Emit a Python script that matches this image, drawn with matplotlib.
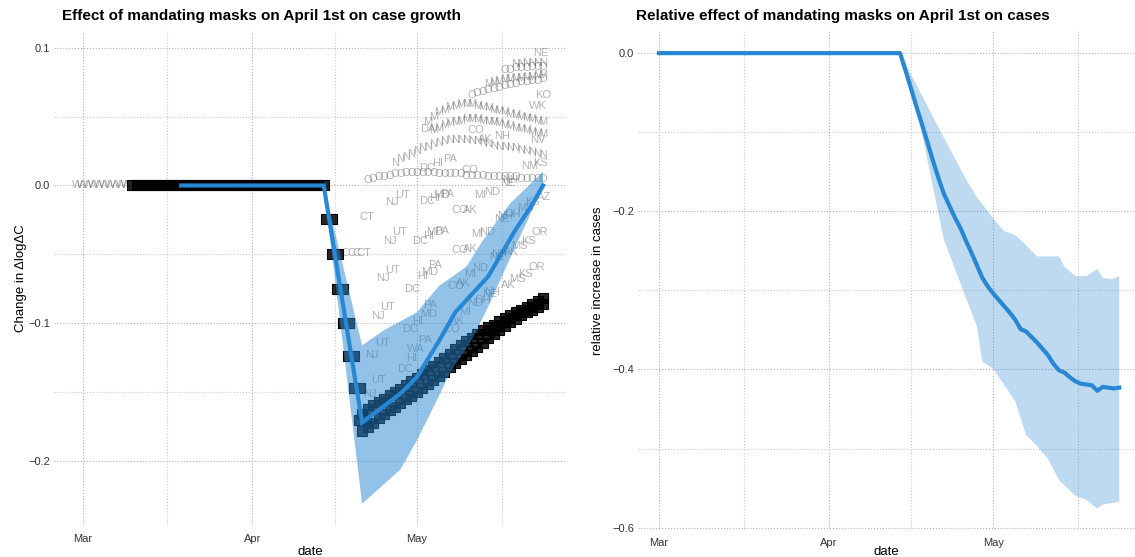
import numpy as np
import matplotlib.pyplot as plt
from matplotlib.path import Path

plt.rcParams['font.family'] = ['Liberation Sans', 'DejaVu Sans']

# x values are days counted from March 1st
month_ticks = [0, 31, 61]
month_labels = ['Mar', 'Apr', 'May']
mid_month = [15.5, 46, 76.5]

# ---------------- left panel data ----------------
# pooled estimate (blue line) and its band
growth_days = [18, 44, 51, 58, 61, 65, 68, 74, 79, 82, 84]
growth_vals = [0.0, 0.0, -0.172, -0.151, -0.139, -0.113, -0.092, -0.066, -0.032, -0.014, 0.0]
band_hi_days = [44, 51, 55, 61, 65, 70, 73, 78, 84]
band_hi_vals = [0.0, -0.116, -0.105, -0.092, -0.073, -0.059, -0.040, -0.013, 0.010]
band_lo_days = [44, 51, 58, 61, 65, 67, 71, 74, 79, 84]
band_lo_vals = [0.0, -0.231, -0.206, -0.185, -0.153, -0.136, -0.112, -0.088, -0.044, -0.001]

# black markers
black_flat_days = list(range(9, 45))
black_flat_vals = [0.0] * 36
black_step_days = [45, 46, 47, 48, 49, 50, 51]
black_step_vals = [-0.024, -0.050, -0.075, -0.100, -0.124, -0.147, -0.170]
black_rise_start = 51
black_rise_up = [-0.166, -0.162, -0.159, -0.157, -0.155, -0.152, -0.150, -0.148, -0.145,
                 -0.142, -0.140, -0.137, -0.134, -0.131, -0.128, -0.125, -0.122, -0.119,
                 -0.116, -0.113, -0.111, -0.108, -0.105, -0.103, -0.101, -0.098, -0.096,
                 -0.094, -0.092, -0.090, -0.088, -0.086, -0.084, -0.082]
black_rise_lo = [-0.178, -0.175, -0.172, -0.169, -0.166, -0.163, -0.161, -0.158, -0.155,
                 -0.153, -0.150, -0.147, -0.144, -0.141, -0.138, -0.135, -0.132, -0.129,
                 -0.126, -0.123, -0.120, -0.117, -0.114, -0.111, -0.108, -0.105, -0.102,
                 -0.099, -0.097, -0.094, -0.092, -0.090, -0.088, -0.086]

# dense rows of grey state labels (one glyph per day)
row_w_start, row_w_char = -1, 'W'
row_w_vals = [0.0] * 10
row_a_start, row_a_char = 52, 'O'
row_a_vals = [0.004, 0.005, 0.006, 0.006, 0.007, 0.008, 0.008, 0.009, 0.009, 0.009, 0.009,
              0.009, 0.009, 0.008, 0.008, 0.008, 0.008, 0.008, 0.007, 0.007, 0.007, 0.007,
              0.006, 0.006, 0.006, 0.006, 0.006, 0.006, 0.005, 0.005, 0.005, 0.005, 0.005]
row_b_start, row_b_char = 57, 'N'
row_b_vals = [0.016, 0.019, 0.021, 0.023, 0.025, 0.027, 0.028, 0.030, 0.031, 0.032, 0.033,
              0.033, 0.033, 0.033, 0.032, 0.032, 0.031, 0.030, 0.029, 0.028, 0.028, 0.027,
              0.027, 0.026, 0.025, 0.024, 0.023, 0.022]
row_c1_start, row_c1_char = 63, 'M'
row_c1_vals = [0.046, 0.050, 0.053, 0.055, 0.057, 0.058, 0.059, 0.059, 0.059, 0.058, 0.057,
               0.056, 0.055, 0.054, 0.053, 0.052, 0.051, 0.050, 0.049, 0.048, 0.047, 0.046]
row_c2_start, row_c2_char = 64, 'M'
row_c2_vals = [0.040, 0.042, 0.044, 0.045, 0.046, 0.047, 0.048, 0.048, 0.048, 0.047, 0.046,
               0.046, 0.045, 0.044, 0.043, 0.042, 0.041, 0.040, 0.039, 0.038, 0.037]
row_d1_start, row_d1_char = 71, 'O'
row_d1_vals = [0.066, 0.067, 0.068, 0.069, 0.070, 0.071, 0.072, 0.073, 0.074, 0.075, 0.075,
               0.076, 0.076, 0.077]
row_d2_start, row_d2_char = 74, 'M'
row_d2_vals = [0.074, 0.075, 0.076, 0.077, 0.077, 0.078, 0.078, 0.079, 0.079, 0.080, 0.080]
row_e1_start, row_e1_char = 77, 'O'
row_e1_vals = [0.084, 0.084, 0.085, 0.085, 0.085, 0.086, 0.086, 0.086]
row_e2_start, row_e2_char = 79, 'N'
row_e2_vals = [0.088, 0.088, 0.089, 0.089, 0.089, 0.089]

# single grey state labels: (text, day, value)
state_labels = [
    ('NE', 83.6, 0.096),
    ('NJ', 56.5, -0.012), ('UT', 58.3, -0.007), ('NJ', 56.0, -0.040), ('UT', 57.8, -0.034),
    ('NJ', 54.8, -0.067), ('UT', 56.6, -0.061), ('NJ', 53.9, -0.095), ('UT', 55.6, -0.088),
    ('NJ', 52.8, -0.123), ('UT', 54.8, -0.114), ('NJ', 52.4, -0.151), ('UT', 53.9, -0.141),
    ('CT', 51.8, -0.023), ('C', 48, -0.049), ('C', 49, -0.049), ('C', 50, -0.049),
    ('CT', 51.3, -0.049),
    ('DC', 62.8, 0.013), ('HI', 64.8, 0.016), ('PA', 67.0, 0.019),
    ('DC', 62.8, -0.011), ('HI', 64.3, -0.009), ('MD', 65.5, -0.007), ('PA', 66.5, -0.006),
    ('DC', 61.6, -0.040), ('HI', 63.1, -0.037), ('MD', 64.3, -0.034), ('PA', 65.5, -0.033),
    ('DC', 60.1, -0.075), ('HI', 62.1, -0.066), ('MD', 63.4, -0.063), ('PA', 64.3, -0.058),
    ('DC', 59.7, -0.104), ('HI', 61.2, -0.098), ('MD', 63.1, -0.093), ('PA', 63.4, -0.087),
    ('DC', 58.9, -0.133), ('HI', 60.1, -0.125), ('WA', 60.7, -0.119), ('PA', 62.5, -0.112),
    ('CO', 71.8, 0.040), ('AK', 73.4, 0.034), ('CO', 70.7, 0.011),
    ('CO', 68.9, -0.018), ('AK', 70.7, -0.018), ('CO', 68.9, -0.047), ('AK', 70.7, -0.046),
    ('CO', 68.0, -0.073), ('AK', 69.4, -0.071), ('CO', 67.4, -0.104), ('AK', 68.3, -0.098),
    ('MI', 72.5, -0.007), ('ND', 74.7, -0.005), ('MI', 72.0, -0.035), ('ND', 73.8, -0.034),
    ('MI', 70.7, -0.064), ('ND', 72.5, -0.060), ('MI', 69.8, -0.092), ('ND', 71.6, -0.085),
    ('OH', 73.1, -0.083),
    ('NE', 76.5, -0.024), ('NH', 77.0, -0.022), ('NE', 75.5, -0.052), ('NH', 76.0, -0.050),
    ('NE', 74.3, -0.079), ('NH', 74.8, -0.077), ('NE', 77.5, 0.002), ('NH', 78.0, 0.004),
    ('OH', 78.5, -0.021),
    ('MS', 80.7, -0.016), ('KS', 82.0, -0.012), ('AZ', 84.2, -0.008),
    ('AK', 78.3, -0.048), ('MS', 79.6, -0.044), ('KS', 81.4, -0.040), ('OR', 83.4, -0.034),
    ('AK', 77.7, -0.072), ('MS', 79.3, -0.068), ('KS', 80.8, -0.064), ('OR', 82.9, -0.059),
    ('KS', 83.5, 0.016), ('NM', 81.5, 0.014), ('NH', 76.5, 0.036), ('NV', 83.0, 0.033),
    ('DA', 63.0, 0.041), ('KO', 84.0, 0.066), ('WK', 83.0, 0.058),
]

# ---------------- right panel data ----------------
rel_days = [0, 44, 45, 46, 47, 48, 49, 50, 51, 52, 53, 54, 55, 56, 57, 58, 59, 60, 61, 62,
            63, 64, 65, 66, 67, 68, 69, 70, 71, 72, 73, 74, 75, 76, 77, 78, 79, 80, 81, 82,
            83, 84]
rel_vals = [0.0, 0.0, -0.022, -0.045, -0.068, -0.090, -0.113, -0.136, -0.158, -0.178,
            -0.193, -0.208, -0.221, -0.237, -0.252, -0.268, -0.284, -0.295, -0.304, -0.312,
            -0.320, -0.328, -0.337, -0.349, -0.352, -0.359, -0.366, -0.374, -0.382, -0.393,
            -0.401, -0.404, -0.410, -0.415, -0.418, -0.419, -0.420, -0.427, -0.422, -0.423,
            -0.424, -0.423]
rel_hi_days = [44, 52, 56, 58, 61, 63, 65, 67, 69, 73, 74, 76, 78, 80, 81, 82.5, 84]
rel_hi_vals = [0.0, -0.107, -0.159, -0.182, -0.209, -0.225, -0.230, -0.243, -0.257, -0.257,
               -0.270, -0.282, -0.282, -0.273, -0.284, -0.286, -0.282]
rel_lo_days = [44, 47, 52, 56, 58, 59, 61, 65, 67, 69, 71, 73, 76, 78, 80, 81, 84]
rel_lo_vals = [0.0, -0.069, -0.236, -0.309, -0.345, -0.390, -0.399, -0.440, -0.483, -0.497,
               -0.513, -0.540, -0.560, -0.565, -0.576, -0.571, -0.567]

blue = '#2887d3'
label_grey = '#555555'

fig = plt.figure(figsize=(11.35, 5.57), dpi=100)
ax1 = fig.add_axes([54 / 1135, 31 / 557, 512.6 / 1135, 495 / 557])
ax2 = fig.add_axes([638 / 1135, 27 / 557, 497 / 1135, 499 / 557])


def style_axes(ax, major_y, minor_y):
    for s in ax.spines.values():
        s.set_visible(False)
    ax.set_xticks(month_ticks)
    ax.set_xticklabels(month_labels)
    ax.set_xticks(mid_month, minor=True)
    ax.set_yticks(major_y)
    ax.set_yticks(minor_y, minor=True)
    ax.tick_params(which='both', length=0, labelsize=8, colors='#333333')
    ax.tick_params(axis='x', pad=6)
    ax.tick_params(axis='y', pad=3)
    ax.grid(which='major', color='#b0b0b0', linestyle=':', linewidth=0.8)
    ax.grid(which='minor', color='#c8c8c8', linestyle=':', linewidth=0.8)
    ax.set_axisbelow(True)
    ax.set_xlabel('date', fontsize=9.5)


# ---- left
ax = ax1
style_axes(ax, [0.1, 0.0, -0.1, -0.2], [0.05, -0.05, -0.15])
ax.set_xlim(-5.2, 88.3)
ax.set_ylim(-0.2471, 0.1121)

rows = [(row_w_start, row_w_char, row_w_vals), (row_a_start, row_a_char, row_a_vals),
        (row_b_start, row_b_char, row_b_vals), (row_c1_start, row_c1_char, row_c1_vals),
        (row_c2_start, row_c2_char, row_c2_vals), (row_d1_start, row_d1_char, row_d1_vals),
        (row_d2_start, row_d2_char, row_d2_vals), (row_e1_start, row_e1_char, row_e1_vals),
        (row_e2_start, row_e2_char, row_e2_vals)]
for start, ch, vals in rows:
    for i, v in enumerate(vals):
        ax.text(start + i, v, ch, fontsize=8, color=label_grey, alpha=0.45,
                ha='center', va='center', zorder=2, clip_on=True)
for txt, d, v in state_labels:
    ax.text(d, v, txt, fontsize=8, color=label_grey, alpha=0.45,
            ha='center', va='center', zorder=2, clip_on=True)

sq = dict(marker='s', ms=6.5, mfc=(0, 0, 0, 0.85), mec='black', mew=0.8, ls='none', zorder=3)
ax.plot(black_flat_days, black_flat_vals, **sq)
rise_days = list(range(black_rise_start, black_rise_start + len(black_rise_up)))
ax.plot(rise_days, black_rise_up, **sq)
ax.plot(rise_days, black_rise_lo, **sq)
wide = Path([(-1.7, -1), (1.7, -1), (1.7, 1), (-1.7, 1), (-1.7, -1)])
ax.plot(black_step_days, black_step_vals, marker=wide, ms=12, mfc=(0, 0, 0, 0.85),
        mec='black', mew=0.8, ls='none', zorder=3)

ax.fill(band_hi_days + band_lo_days[::-1], band_hi_vals + band_lo_vals[::-1],
        color=blue, alpha=0.5, lw=0, zorder=4)
ax.plot(growth_days, growth_vals, color=blue, lw=3, solid_joinstyle='miter', zorder=5)
ax.set_ylabel('Change in \u0394log\u0394C', fontsize=9.5)
ax.yaxis.set_label_coords(-0.053, 0.5)
ax.xaxis.set_label_coords(0.5, -0.040)

# ---- right
ax = ax2
style_axes(ax, [0.0, -0.2, -0.4, -0.6], [-0.1, -0.3, -0.5])
ax.set_xlim(-3.83, 86.87)
ax.set_ylim(-0.603, 0.028)
ax.fill(rel_hi_days + rel_lo_days[::-1], rel_hi_vals + rel_lo_vals[::-1],
        color=blue, alpha=0.3, lw=0, zorder=4)
ax.plot(rel_days, rel_vals, color=blue, lw=3, zorder=5)
ax.set_ylabel('relative increase in cases', fontsize=9.5)
ax.yaxis.set_label_coords(-0.068, 0.5)
ax.xaxis.set_label_coords(0.5, -0.032)

fig.text(62 / 1135, 1 - 16 / 557, 'Effect of mandating masks on April 1st on case growth',
         fontsize=11, fontweight='bold', va='center')
fig.text(636 / 1135, 1 - 16 / 557, 'Relative effect of mandating masks on April 1st on cases',
         fontsize=11, fontweight='bold', va='center')

fig.savefig('out.png', dpi=100)
